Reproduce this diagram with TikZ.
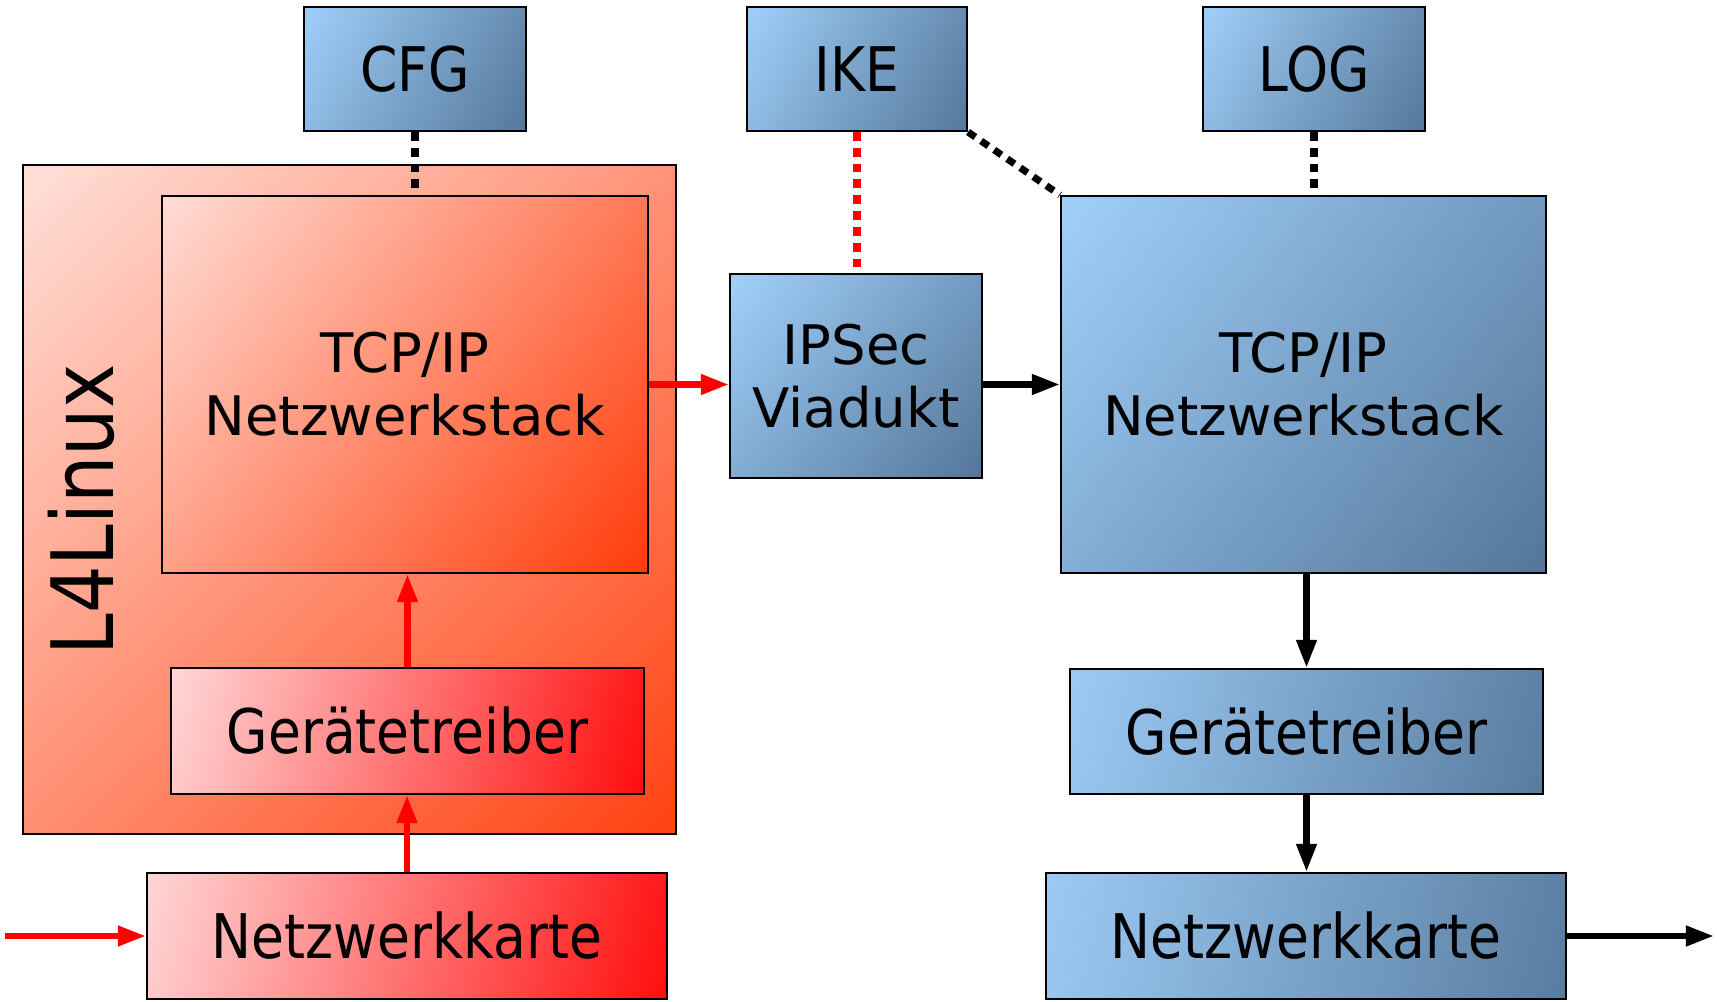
\documentclass[tikz,border=0pt]{standalone}
\usepackage{fontspec}
\setmainfont{DejaVu Sans}
\newfontfamily\narrowfont{DejaVu Sans}[FakeStretch=0.87]
\usepackage{xcolor}
\usepackage{tikz}
\usetikzlibrary{arrows.meta, positioning, calc}
\definecolor{linuxlight}{RGB}{255, 221, 213}
\definecolor{linuxdark}{RGB}{255, 69, 21}
\definecolor{stacklight}{RGB}{255, 218, 210}
\definecolor{stackdark}{RGB}{255, 62, 12}
\definecolor{hwlight}{RGB}{255, 216, 216}
\definecolor{hwdark}{RGB}{255, 12, 12}
\definecolor{bluelight}{RGB}{159, 205, 248}
\definecolor{bluedark}{RGB}{86, 121, 155}
\definecolor{flowred}{RGB}{255, 0, 0}
\pgfdeclareverticalshading{linuxshade}{100bp}{color(0bp)=(linuxdark); color(16bp)=(linuxdark); color(84bp)=(linuxlight); color(100bp)=(linuxlight)}
\pgfdeclareverticalshading{stackshade}{100bp}{color(0bp)=(stackdark); color(16bp)=(stackdark); color(84bp)=(stacklight); color(100bp)=(stacklight)}
\pgfdeclareverticalshading{hwshade}{100bp}{color(0bp)=(hwdark); color(19bp)=(hwdark); color(81bp)=(hwlight); color(100bp)=(hwlight)}
\pgfdeclareverticalshading{blueshade}{100bp}{color(0bp)=(bluedark); color(17bp)=(bluedark); color(83bp)=(bluelight); color(100bp)=(bluelight)}

\begin{document}
\begin{tikzpicture}[
    box/.style={rectangle, draw=black, line width=0.6pt, align=center, inner sep=0pt},
    bigtext/.style={font=\fontsize{15.5}{18}\selectfont},
    narrowtext/.style={font=\narrowfont\fontsize{17.5}{20}\selectfont},
    linuxbox/.style={box, shade, shading=linuxshade, shading angle=44},
    redstack/.style={box, bigtext, shade, shading=stackshade, shading angle=52},
    redhw/.style={box, narrowtext, shade, shading=hwshade, shading angle=75},
    bluebox/.style={box, shade, shading=blueshade},
    arrow/.style={-{Triangle[length=8pt, width=5.5pt]}, line width=1.8pt},
    link/.style={line width=2pt, dash pattern=on 2.5pt off 2pt}
]
\useasboundingbox (0,0) rectangle (17.17,10.01);

% Dienste
\node[bluebox, narrowtext, minimum width=2.22cm, minimum height=1.24cm, shading angle=61] (cfg) at (4.15,9.32) {CFG};
\node[bluebox, narrowtext, minimum width=2.20cm, minimum height=1.24cm, shading angle=61] (ike) at (8.57,9.32) {IKE};
\node[bluebox, narrowtext, minimum width=2.22cm, minimum height=1.24cm, shading angle=61] (log) at (13.14,9.32) {LOG};

% L4Linux
\node[linuxbox, minimum width=6.53cm, minimum height=6.69cm] (l4linux) at (3.495,5.015) {};
\node[rotate=90, font=\narrowfont\fontsize{24.5}{28}\selectfont] (l4label) at (0.81,4.91) {L4Linux};
\node[redstack, minimum width=4.86cm, minimum height=3.77cm] (ltcp) at (4.05,6.165) {TCP/IP\\Netzwerkstack};
\node[redhw, minimum width=4.73cm, minimum height=1.26cm] (ltreiber) at (4.075,2.70) {Gerätetreiber};
\node[redhw, minimum width=5.20cm, minimum height=1.26cm, shading angle=76] (lkarte) at (4.07,0.65) {Netzwerkkarte};

% Viadukt
\node[bluebox, bigtext, minimum width=2.52cm, minimum height=2.04cm, shading angle=51] (ipsec) at (8.56,6.25) {IPSec\\Viadukt};

% rechte Seite
\node[bluebox, bigtext, minimum width=4.85cm, minimum height=3.77cm, shading angle=52] (rtcp) at (13.035,6.165) {TCP/IP\\Netzwerkstack};
\node[bluebox, narrowtext, minimum width=4.73cm, minimum height=1.25cm, shading angle=75] (rtreiber) at (13.065,2.695) {Gerätetreiber};
\node[bluebox, narrowtext, minimum width=5.20cm, minimum height=1.26cm, shading angle=76] (rkarte) at (13.06,0.65) {Netzwerkkarte};

\coordinate (netin) at (0.05,0.65);
\coordinate (netout) at (17.14,0.65);

% Verbindungen
\draw[link] (cfg.south) -- (cfg.south |- ltcp.north);
\draw[link, flowred] (ike.south) -- (ike.south |- ipsec.north);
\draw[link] (ike.south east) -- (rtcp.north west);
\draw[link] (log.south) -- (log.south |- rtcp.north);

% Datenfluss
\draw[arrow, flowred] (netin) -- (lkarte.west);
\draw[arrow, flowred] (lkarte.north) -- (lkarte.north |- ltreiber.south);
\draw[arrow, flowred] (ltreiber.north) -- (ltreiber.north |- ltcp.south);
\draw[arrow, flowred] (ltcp.east) -- (ltcp.east -| ipsec.west);
\draw[arrow] (ipsec.east |- rtcp.west) -- (rtcp.west);
\draw[arrow] (rtreiber.north |- rtcp.south) -- (rtreiber.north);
\draw[arrow] (rtreiber.south) -- (rtreiber.south |- rkarte.north);
\draw[arrow] (rkarte.east) -- (netout);

\end{tikzpicture}
\end{document}
